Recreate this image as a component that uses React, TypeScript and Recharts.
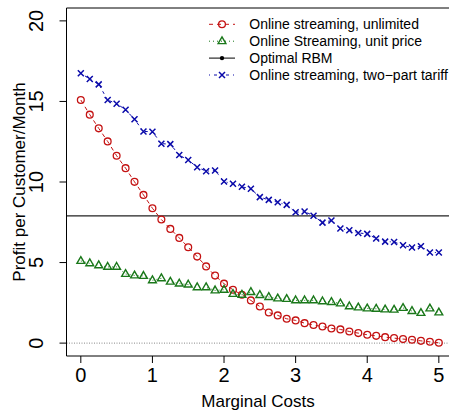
import { LineChart, Line, XAxis, YAxis, ReferenceLine } from 'recharts'

// marginal cost grid and profit per customer/month
const marginalCost = [
  0, 0.125, 0.25, 0.375, 0.5, 0.625, 0.75, 0.875, 1, 1.125,
  1.25, 1.375, 1.5, 1.625, 1.75, 1.875, 2, 2.125, 2.25, 2.375,
  2.5, 2.625, 2.75, 2.875, 3, 3.125, 3.25, 3.375, 3.5, 3.625,
  3.75, 3.875, 4, 4.125, 4.25, 4.375, 4.5, 4.625, 4.75, 4.875, 5,
]
const unlimited = [
  15.09, 14.18, 13.33, 12.52, 11.63, 10.86, 10.01, 9.2, 8.37, 7.67,
  7.09, 6.53, 5.95, 5.37, 4.76, 4.19, 3.69, 3.31, 3.0, 2.65,
  2.27, 1.9, 1.72, 1.51, 1.41, 1.24, 1.12, 1.03, 0.91, 0.85,
  0.72, 0.62, 0.52, 0.45, 0.37, 0.31, 0.25, 0.21, 0.14, 0.08, 0.02,
]
const unitPrice = [
  5.1, 4.95, 4.83, 4.73, 4.73, 4.29, 4.2, 4.17, 3.9, 4.02,
  3.81, 3.69, 3.63, 3.46, 3.46, 3.27, 3.31, 3.05, 3.0, 3.17,
  2.98, 2.86, 2.77, 2.74, 2.65, 2.65, 2.65, 2.59, 2.55, 2.46,
  2.28, 2.21, 2.15, 2.13, 2.09, 2.07, 2.18, 1.99, 1.87, 2.15, 1.9,
]
const twoPart = [
  16.75, 16.39, 16.06, 15.09, 14.86, 14.49, 13.89, 13.14, 13.12, 12.38,
  12.35, 11.67, 11.36, 10.92, 10.67, 10.71, 10.03, 9.89, 9.7, 9.58,
  9.06, 8.89, 8.74, 8.58, 8.12, 8.17, 7.9, 7.48, 7.61, 7.11,
  7.0, 6.84, 6.78, 6.49, 6.3, 6.28, 6.07, 5.93, 6.01, 5.63, 5.62,
]
const optimalRBM = 7.9

const xTicks = [0, 1, 2, 3, 4, 5]
const yTicks = [0, 5, 10, 15, 20]
const legendLabels = [
  'Online streaming, unlimited',
  'Online Streaming, unit price',
  'Optimal RBM',
  'Online streaming, two\u2212part tariff',
]

const FONT = '"Liberation Sans", Arial, Helvetica, sans-serif'
const RED = '#C41212'
const GREEN = '#1A781A'
const BLUE = '#0A0AAA'
const DASH_RED = '4 4'
const DASH_GREEN = '1 3'
const DASH_BLUE = '1 4 3 4'

const data = marginalCost.map((x, i) => ({
  x,
  unlimited: unlimited[i],
  unitPrice: unitPrice[i],
  twoPart: twoPart[i],
}))

function circleMark(cx: number, cy: number, key?: any) {
  return <circle key={key} cx={cx} cy={cy} r={3.4} fill="none" stroke={RED} strokeWidth={1.3} />
}

function triangleMark(cx: number, cy: number, key?: any) {
  const d = `M${cx},${cy - 4.4} L${cx + 3.9},${cy + 2.4} L${cx - 3.9},${cy + 2.4} Z`
  return <path key={key} d={d} fill="none" stroke={GREEN} strokeWidth={1.4} />
}

function crossMark(cx: number, cy: number, key?: any) {
  const d = `M${cx - 3},${cy - 3} L${cx + 3},${cy + 3} M${cx - 3},${cy + 3} L${cx + 3},${cy - 3}`
  return <path key={key} d={d} fill="none" stroke={BLUE} strokeWidth={1.5} />
}

function XTick({ x, payload }: any) {
  return (
    <text x={x} y={382} textAnchor="middle" fontSize={20} fontFamily={FONT} fill="#000">
      {payload.value}
    </text>
  )
}

function YTick({ y, payload }: any) {
  return (
    <text transform={`translate(43,${y}) rotate(-90)`} textAnchor="middle" fontSize={20} fontFamily={FONT} fill="#000">
      {payload.value}
    </text>
  )
}

function Overlay() {
  const rows = [29.3, 46.2, 63.1, 80]
  const symbols = [
    (y: number) => (
      <g>
        <line x1={209} x2={235} y1={y} y2={y} stroke={RED} strokeDasharray={DASH_RED} />
        {circleMark(222, y)}
      </g>
    ),
    (y: number) => (
      <g>
        <line x1={209} x2={235} y1={y} y2={y} stroke={GREEN} strokeDasharray={DASH_GREEN} />
        {triangleMark(222, y)}
      </g>
    ),
    (y: number) => (
      <g>
        <line x1={209} x2={235} y1={y} y2={y} stroke="#000" />
        <circle cx={222} cy={y} r={2.2} fill="#000" />
      </g>
    ),
    (y: number) => (
      <g>
        <line x1={209} x2={235} y1={y} y2={y} stroke={BLUE} strokeDasharray={DASH_BLUE} />
        {crossMark(222, y)}
      </g>
    ),
  ]
  return (
    <svg width={449} height={411} style={{ position: 'absolute', left: 0, top: 0, pointerEvents: 'none' }}>
      {legendLabels.map((label, i) => (
        <g key={label}>
          {symbols[i](rows[i] - 5)}
          <text x={249.3} y={rows[i]} fontSize={14} fontFamily={FONT} fill="#000">{label}</text>
        </g>
      ))}
      <text x={258} y={407} textAnchor="middle" fontSize={17} fontFamily={FONT} fill="#000">Marginal Costs</text>
      <text transform="translate(25,182) rotate(-90)" textAnchor="middle" fontSize={17} fontFamily={FONT} fill="#000">
        Profit per Customer/Month
      </text>
    </svg>
  )
}

export default function App() {
  return (
    <div style={{ position: 'absolute', left: 0, top: 0, width: 449, height: 411, background: '#fff' }}>
      <LineChart width={449} height={411} data={data} margin={{ top: 8, right: 0, bottom: 0, left: 0 }}>
        <XAxis
          dataKey="x"
          type="number"
          domain={[-0.2, 5.142]}
          ticks={xTicks}
          allowDataOverflow
          height={55}
          tickSize={7}
          stroke="#000"
          tick={<XTick />}
        />
        <YAxis
          type="number"
          domain={[-0.8, 20.8]}
          ticks={yTicks}
          allowDataOverflow
          width={66.5}
          tickSize={7}
          stroke="#000"
          tick={<YTick />}
        />
        <ReferenceLine y={20.8} stroke="#000" />
        <ReferenceLine y={0} stroke="#888" strokeDasharray="1 1.5" />
        <ReferenceLine y={optimalRBM} stroke="#222" strokeWidth={1.2} />
        <Line
          dataKey="unlimited"
          stroke={RED}
          strokeDasharray={DASH_RED}
          strokeWidth={1}
          dot={(p: any) => circleMark(p.cx, p.cy, p.index)}
          activeDot={false}
          isAnimationActive={false}
        />
        <Line
          dataKey="unitPrice"
          stroke={GREEN}
          strokeDasharray={DASH_GREEN}
          strokeWidth={1}
          dot={(p: any) => triangleMark(p.cx, p.cy, p.index)}
          activeDot={false}
          isAnimationActive={false}
        />
        <Line
          dataKey="twoPart"
          stroke={BLUE}
          strokeDasharray={DASH_BLUE}
          strokeWidth={1}
          dot={(p: any) => crossMark(p.cx, p.cy, p.index)}
          activeDot={false}
          isAnimationActive={false}
        />
      </LineChart>
      <Overlay />
    </div>
  )
}
